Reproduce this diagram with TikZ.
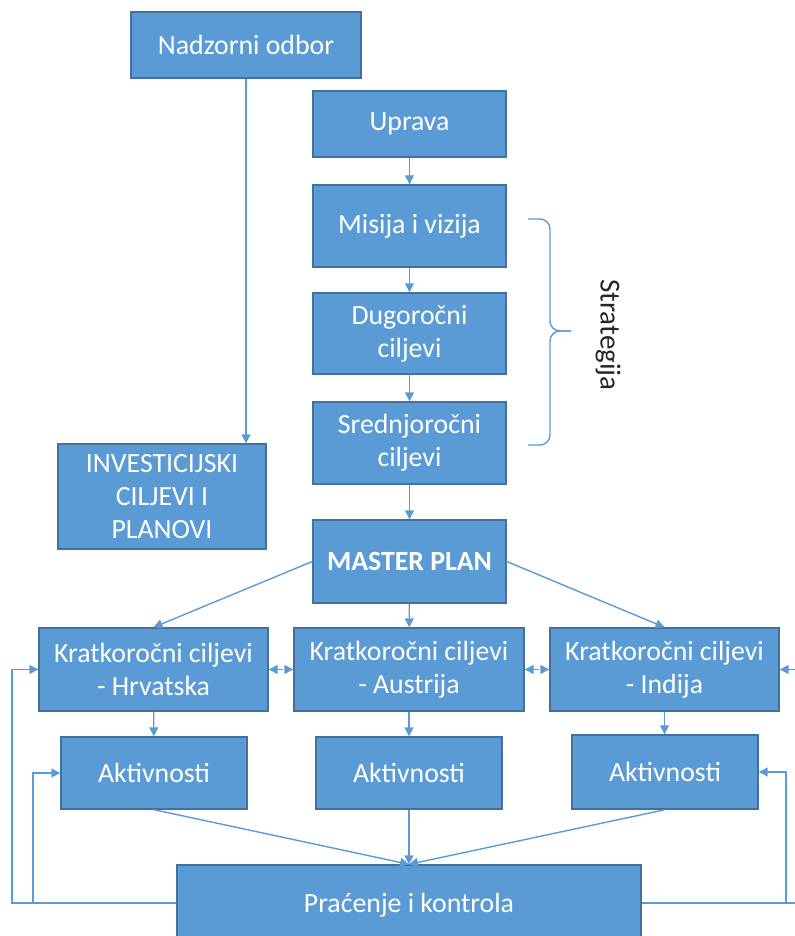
\documentclass[tikz,border=0pt]{standalone}
\usepackage{fontspec}
\setmainfont{Carlito}
\usepackage{xcolor}
\usepackage{tikz}
\usetikzlibrary{arrows.meta}
\definecolor{plava}{HTML}{5B9BD5}
\definecolor{rub}{HTML}{41719C}

\begin{document}
\begin{tikzpicture}[x=0.5pt,y=-0.5pt,
    >={Triangle[length=4.5pt,width=4.5pt]},
    blok/.style={draw=rub,fill=plava,line width=0.7pt,text=white,align=center,
      inner sep=0pt,font=\fontsize{13.9}{16.5}\selectfont},
    veza/.style={draw=plava,line width=0.7pt}]
    \useasboundingbox (0,0) rectangle (795,936);
    % uprava i strategija
    \node[blok,minimum width=115pt,minimum height=33pt] (nadzor) at (246,45) {Nadzorni odbor};
    \node[blok,minimum width=96.5pt,minimum height=33pt] (uprava) at (409.5,124) {Uprava};
    \node[blok,minimum width=96.5pt,minimum height=41pt] (misija) at (409.5,226) {Misija i vizija};
    \node[blok,minimum width=96.5pt,minimum height=40.5pt] (dugo) at (409.5,333.5) {Dugoročni\\ciljevi};
    \node[blok,minimum width=96.5pt,minimum height=41pt] (sred) at (409.5,443) {Srednjoročni\\ciljevi};
    \node[blok,minimum width=96.5pt,minimum height=41.5pt,font=\fontsize{13.9}{16.5}\selectfont\bfseries] (master) at (409.5,561.5) {MASTER PLAN};
    \node[blok,minimum width=104pt,minimum height=52.5pt] (invest) at (162,496.5) {INVESTICIJSKI\\CILJEVI I\\PLANOVI};

    % kratkorocni ciljevi
    \node[blok,minimum width=114.5pt,minimum height=41.5pt] (kHr) at (153.5,669.5) {Kratkoročni ciljevi\\- Hrvatska};
    \node[blok,minimum width=115pt,minimum height=41.5pt] (kAt) at (409,669.5) {Kratkoročni ciljevi\\- Austrija};
    \node[blok,minimum width=114.5pt,minimum height=41.5pt] (kIn) at (664.5,669.5) {Kratkoročni ciljevi\\- Indija};

    % aktivnosti
    \node[blok,minimum width=93pt,minimum height=36pt] (akt1) at (154,773) {Aktivnosti};
    \node[blok,minimum width=93pt,minimum height=36pt] (akt2) at (409,773) {Aktivnosti};
    \node[blok,minimum width=93pt,minimum height=37pt] (akt3) at (665,772) {Aktivnosti};
    \node[blok,minimum width=232pt,minimum height=40pt] (prac) at (409,905) {Praćenje i kontrola};

    % strelice
    \draw[veza,->] (nadzor.south) -- (nadzor.south |- invest.north);
    \draw[veza,->] (uprava) -- (misija);
    \draw[veza,->] (misija) -- (dugo);
    \draw[veza,->] (dugo) -- (sred);
    \draw[veza,->] (sred) -- (master);
    \draw[veza,->] (master) -- (kAt);
    \draw[veza,->] (master.west) -- (kHr.north);
    \draw[veza,->] (master.east) -- (kIn.north);
    \draw[veza,<->,dashed] (kHr) -- (kAt);
    \draw[veza,<->,dashed] (kAt) -- (kIn);
    \draw[veza,->] (kHr) -- (akt1);
    \draw[veza,->] (kAt) -- (akt2);
    \draw[veza,->] (kIn.south) -- (akt3.north -| kIn.south);
    \draw[veza,->] (akt1.south) -- (prac.north);
    \draw[veza,->] (akt2.south) -- (prac.north);
    \draw[veza,->] (akt3.south) -- (prac.north);

    % povratne veze
    \coordinate (lijevo) at (12,903);
    \coordinate (lijevo2) at (33,903);
    \coordinate (desno) at (800,903);
    \coordinate (desno2) at (786,903);
    \draw[veza,->] (prac.west |- lijevo) -- (lijevo) |- (kHr.west);
    \draw[veza,->] (lijevo2) |- (akt1.west);
    \draw[veza,->] (prac.east |- desno) -- (desno) |- (kIn.east);
    \draw[veza,->] (desno2) |- (akt3.east);

    % strategija
    \coordinate (vrh) at (571,331);
    \draw[veza,rounded corners=5pt] (528,219) -| (550,331) -- (vrh);
    \draw[veza,rounded corners=5pt] (528,445) -| (550,331) -- (vrh);
    \node[rotate=-90,font=\fontsize{14.5}{17}\selectfont,text=black!85] (strat) at (608,335) {Strategija};
\end{tikzpicture}
\end{document}
